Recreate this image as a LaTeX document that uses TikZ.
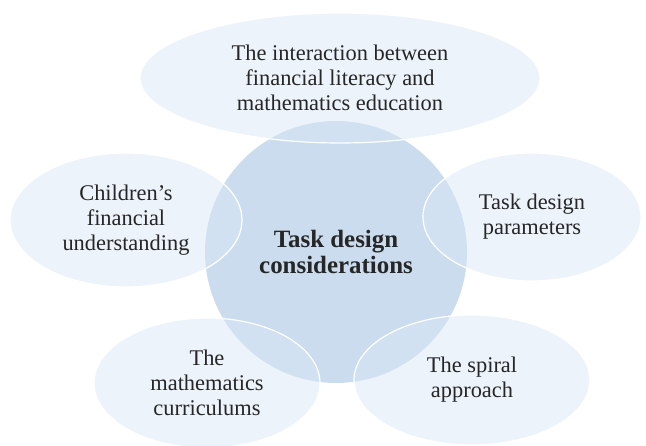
\documentclass[tikz,border=0pt]{standalone}
\usepackage{fontspec}
\setmainfont{Liberation Serif}
\usetikzlibrary{shapes.geometric}

\definecolor{hub}{HTML}{CADCEE}
\definecolor{petal}{HTML}{DBE7F5}
\definecolor{ink}{HTML}{262626}

\begin{document}
\begin{tikzpicture}[x=1bp,y=-1bp,
	hubnode/.style={circle, fill=hub, minimum size=262bp, inner sep=0pt},
	petalnode/.style={ellipse, fill=petal, fill opacity=0.5, text opacity=1, draw=white, line width=1.2bp, inner sep=0pt},
	label/.style={align=center, text=ink, font=\fontsize{22.5}{25}\selectfont}]
	\useasboundingbox (0,0) rectangle (646,446);
	\node[hubnode] (hub) at (336,252) {};
	\node[petalnode, minimum width=400bp, minimum height=130bp] (top) at (340,78) {};
	\node[petalnode, minimum width=232bp, minimum height=134bp] (left) at (126,220) {};
	\node[petalnode, minimum width=218bp, minimum height=128bp] (right) at (532,217) {};
	\node[petalnode, minimum width=226bp, minimum height=130bp] (botleft) at (207,383) {};
	\node[petalnode, minimum width=236bp, minimum height=130bp] (botright) at (472,380) {};
	\node[label] at (top) {The interaction between\\financial literacy and\\mathematics education};
	\node[label] at (left) {Children's\\financial\\understanding};
	\node[label] at (right) {Task design\\parameters};
	\node[label] at (botleft) {The\\mathematics\\curriculums};
	\node[label] at (botright.center) {The spiral\\approach};
	\node[label, font=\bfseries\fontsize{25}{27}\selectfont] at (hub) {Task design\\considerations};
\end{tikzpicture}
\end{document}
